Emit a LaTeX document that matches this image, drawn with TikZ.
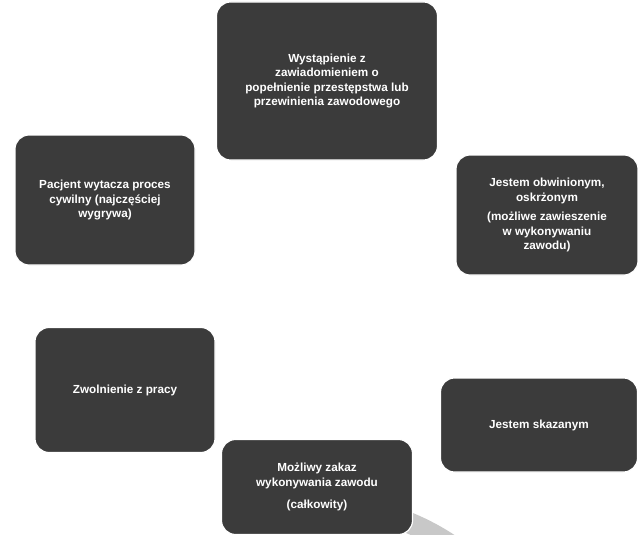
\documentclass[tikz,border=0pt]{standalone}
\usepackage{fontspec}
\setmainfont{Liberation Sans}
\usetikzlibrary{arrows.meta}
\definecolor{boxgray}{HTML}{3B3B3B}
\definecolor{ringgray}{HTML}{C8C8C8}

\tikzset{
  stagebox/.style={draw=white, line width=1pt, fill=boxgray, rounded corners=12pt,
    text=white, font=\fontsize{10}{12.5}\selectfont\bfseries, align=center, inner sep=2pt}
}

\begin{document}
\begin{tikzpicture}[x=0.03cm, y=-0.03cm]
				\useasboundingbox (0,0) rectangle (638,535);
				\draw [ringgray, line width=18pt, -{Triangle[width=34pt, length=22pt]}]
					(318,290) ++(108:238) arc[start angle=-108, end angle=233, radius=238];

				\node [stagebox, minimum width=221*0.03cm, minimum height=158*0.03cm] (report) at (327,81)
					{Wystąpienie z\\zawiadomieniem o\\popełnienie przestępstwa lub\\przewinienia zawodowego};
				\node [stagebox, minimum width=182*0.03cm, minimum height=120*0.03cm] (accused) at (547,215)
					{Jestem  obwinionym,\\oskrżonym\\[4pt](możliwe zawieszenie\\w wykonywaniu\\zawodu)};
				\node [stagebox, minimum width=197*0.03cm, minimum height=94*0.03cm] (convicted) at (539,425)
					{Jestem skazanym};
				\node [stagebox, minimum width=191*0.03cm, minimum height=95*0.03cm] (ban) at (317,487)
					{Możliwy zakaz\\wykonywania zawodu\\[6pt](całkowity)};
				\node [stagebox, minimum width=180*0.03cm, minimum height=125*0.03cm] (dismissal) at (125,390)
					{Zwolnienie z pracy};
				\node [stagebox, minimum width=180*0.03cm, minimum height=130*0.03cm] (lawsuit) at (105,200)
					{Pacjent wytacza proces\\cywilny  (najczęściej\\wygrywa)};
			\end{tikzpicture}
\end{document}
